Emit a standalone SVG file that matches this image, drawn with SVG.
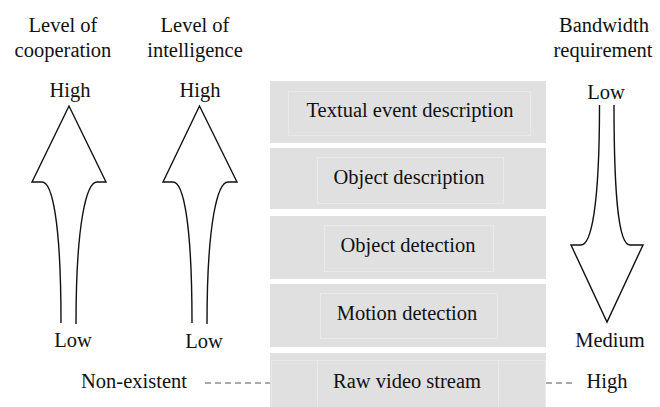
<svg xmlns="http://www.w3.org/2000/svg" width="660" height="407" viewBox="0 0 660 407">
<style>
text{font-family:'Liberation Serif','Times New Roman',Times,Tinos,'Nimbus Roman','DejaVu Serif',serif;font-size:20.5px;fill:#111;text-anchor:middle}
.box{fill:#e0e0e0}
.inner{fill:none;stroke:#e9e9e9;stroke-width:1}
.arrow{fill:#fff;stroke:#111;stroke-width:1.4;stroke-linejoin:miter}
.dash{stroke:#555;stroke-width:1.1;stroke-dasharray:6 4;fill:none}
</style>
<rect width="660" height="407" fill="#fff"/>
<g id="labels" font-family="Liberation Serif, serif">
<text x="63" y="32">Level of</text>
<text x="63" y="57">cooperation</text>
<text x="195" y="32">Level of</text>
<text x="195" y="57">intelligence</text>
<text x="604" y="32">Bandwidth</text>
<text x="603" y="57">requirement</text>
<text x="70" y="97">High</text>
<text x="200" y="97">High</text>
<text x="606" y="99">Low</text>
<text x="73" y="347">Low</text>
<text x="204" y="348">Low</text>
<text x="610" y="347">Medium</text>
<text x="134" y="388">Non-existent</text>
<text x="607" y="388">High</text>
</g>
<g id="arrow-cooperation">
<path class="arrow" d="M61,323 C61,220 52,182 42,182 L32,182 L69,106 L106,182 L97,182 C87,182 76,220 76,324"/>
</g>
<g id="arrow-intelligence">
<path class="arrow" d="M192,323 C192,220 183,182 173,182 L163,182 L199.5,106 L237,182 L228,182 C218,182 207,220 207,324"/>
</g>
<g id="arrow-bandwidth">
<path class="arrow" d="M599.5,105 C599.5,208 591,245 581,245 L571,245 L607,322 L643,245 L630,245 C620,245 614,208 614,105"/>
</g>
<g id="textual-event-description">
<rect class="box" x="270" y="81" width="276" height="62"/>
<rect class="inner" x="288.5" y="91.5" width="242" height="44"/>
<text x="410" y="117">Textual event description</text>
</g>
<g id="object-description">
<rect class="box" x="270" y="148" width="276" height="61"/>
<rect class="inner" x="317.5" y="157.5" width="186" height="46"/>
<text x="409" y="184">Object description</text>
</g>
<g id="object-detection">
<rect class="box" x="270" y="216" width="276" height="63"/>
<rect class="inner" x="324.5" y="225.5" width="169" height="46"/>
<text x="408" y="252">Object detection</text>
</g>
<g id="motion-detection">
<rect class="box" x="270" y="284" width="276" height="63"/>
<rect class="inner" x="320.5" y="293.5" width="177" height="45"/>
<text x="407" y="320">Motion detection</text>
</g>
<g id="raw-video-stream">
<rect class="box" x="270" y="353" width="276" height="54"/>
<rect class="inner" x="271.5" y="360.5" width="274" height="60"/>
<rect class="inner" x="317.5" y="360.5" width="181" height="60"/>
<text x="407" y="388">Raw video stream</text>
</g>
<g id="connectors">
<line class="dash" x1="205" y1="383" x2="270" y2="383" stroke-dasharray="1 4 6 4 6 4 6 4 6 4 6 4 6 4"/>
<line class="dash" x1="546" y1="383" x2="572" y2="383"/>
</g>
</svg>
